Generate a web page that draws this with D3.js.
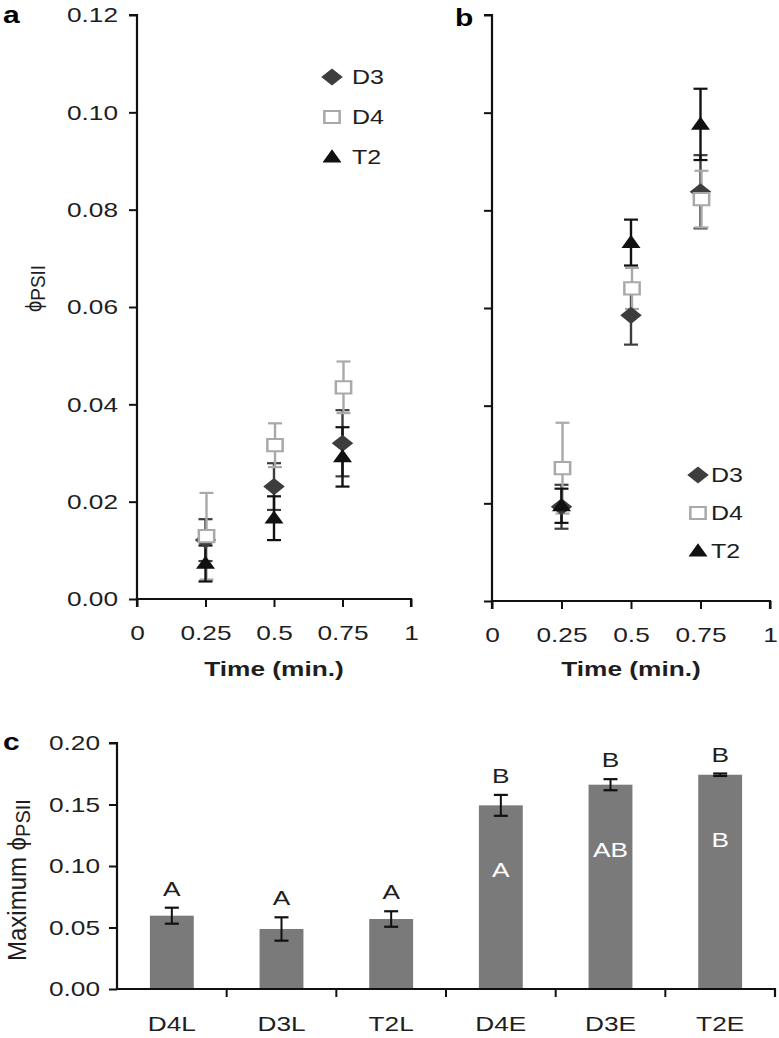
<!DOCTYPE html>
<html><head><meta charset="utf-8">
<script src="https://cdn.jsdelivr.net/npm/d3@7"></script>
<style>
body{margin:0;background:#fff;}
svg{display:block;font-family:"Liberation Sans",Arial,sans-serif;}
</style></head>
<body><svg id="c" width="779" height="1038"></svg>
<script>
// ---------- data ----------
const times = [0.25, 0.5, 0.75];
const seriesNames = ["D3", "D4", "T2"];
// panel a
const aD3 = [0.0121, 0.0231, 0.0320];
const aD3err = [0.0043, 0.0048, 0.0068];
const aD4 = [0.0129, 0.0316, 0.0435];
const aD4err = [0.0089, 0.0045, 0.0053];
const aT2 = [0.0073, 0.0166, 0.0292];
const aT2err = [0.0037, 0.0045, 0.0061];
// panel b
const bD3 = [0.0193, 0.0585, 0.0838];
const bD3err = [0.0045, 0.0060, 0.0075];
const bD4 = [0.0272, 0.0640, 0.0823];
const bD4err = [0.0093, 0.0042, 0.0058];
const bT2 = [0.0195, 0.0734, 0.0976];
const bT2err = [0.0035, 0.0047, 0.0073];
const yTicksAB = [0, 0.02, 0.04, 0.06, 0.08, 0.10, 0.12];
const xTicksAB = [0, 0.25, 0.5, 0.75, 1];
const xTickLabels = ["0", "0.25", "0.5", "0.75", "1"];
// panel c
const barCats = ["D4L", "D3L", "T2L", "D4E", "D3E", "T2E"];
const barVals = [0.0596, 0.0488, 0.0569, 0.1493, 0.1661, 0.1742];
const barErr = [0.0065, 0.0095, 0.0063, 0.0085, 0.0045, 0.0010];
const topLetters = ["A", "A", "A", "B", "B", "B"];
const innerLetters = ["", "", "", "A", "AB", "B"];
const yTicksC = [0, 0.05, 0.10, 0.15, 0.20];

// ---------- styles ----------
const colD3 = "#3d3d3d", colD4 = "#a9a9a9", colT2 = "#111", txtCol = "#1e1e1e";
const SX = 1.25;           // horizontal stretch of the reference
const FS = 21;
const svg = d3.select("#c");

function txt(parent, x, y, str, o = {}) {
  const t = parent.append("text")
    .attr("transform", `translate(${x},${y}) scale(${o.sx || SX},1)` + (o.rot ? ` rotate(${o.rot})` : ""))
    .attr("text-anchor", o.anchor || "start")
    .attr("font-size", o.fs || FS)
    .attr("font-weight", o.bold ? "bold" : null)
    .attr("fill", o.fill || txtCol);
  if (str !== null) t.text(str);
  return t;
}
function stretchAxisText(a) {
  a.selectAll(".tick text").each(function () {
    const el = d3.select(this);
    const x = +el.attr("x") || 0;
    el.attr("transform", `translate(${x},0) scale(${SX},1) translate(${-x},0)`)
      .attr("font-size", FS).attr("fill", txtCol)
      .attr("font-family", "Liberation Sans, Arial, sans-serif");
  });
}
function styleAxis(a) {
  a.select(".domain").attr("stroke", "#111").attr("stroke-width", 2.2);
  a.selectAll(".tick line").attr("stroke", "#111").attr("stroke-width", 2);
  stretchAxisText(a);
}

function drawMarker(g, name, x, y) {
  const base = `translate(${x},${y}) scale(${SX},1)`;
  if (name === "D3") {
    g.append("path").attr("d", d3.symbol(d3.symbolSquare, 148)())
      .attr("transform", base + " rotate(45)").attr("fill", colD3);
  } else if (name === "D4") {
    g.append("path").attr("d", d3.symbol(d3.symbolSquare, 150)())
      .attr("transform", base).attr("fill", "#fff")
      .attr("stroke", colD4).attr("stroke-width", 2);
  } else {
    g.append("path").attr("d", d3.symbol(d3.symbolTriangle, 100)())
      .attr("transform", `translate(${x},${y + 1}) scale(${SX},1)`).attr("fill", colT2);
  }
}

function scatterPanel(opts) {
  const x = d3.scaleLinear().domain([0, 1]).range([opts.x0, opts.x1]);
  const y = d3.scaleLinear().domain([0, 0.12]).range([opts.y0, opts.y1]);
  const g = svg.append("g");
  const yAxis = d3.axisLeft(y).tickValues(yTicksAB).tickSize(8).tickPadding(11)
    .tickFormat(opts.yLabels ? d3.format(".2f") : () => "");
  const ya = g.append("g").attr("transform", `translate(${opts.x0},0)`).call(yAxis);
  const xAxis = d3.axisBottom(x).tickValues(xTicksAB).tickSize(8).tickPadding(18)
    .tickFormat((d, i) => xTickLabels[i]);
  const xa = g.append("g").attr("transform", `translate(0,${opts.y0})`).call(xAxis);
  [ya, xa].forEach(styleAxis);
  ya.select(".domain").attr("d", `M-8,${opts.y1}H0V${opts.y0}`);
  xa.select(".domain").attr("d", `M${opts.x0},8V0H${opts.x1}V8`);

  const sets = [
    {n: "D3", v: opts.D3, e: opts.D3e, c: colD3},
    {n: "D4", v: opts.D4, e: opts.D4e, c: colD4},
    {n: "T2", v: opts.T2, e: opts.T2e, c: colT2}
  ];
  sets.forEach(s => {
    times.forEach((t, i) => {
      const cx = x(t) + (s.n === "D4" ? 1 : 0);
      const top = y(s.v[i] + s.e[i]), bot = y(s.v[i] - s.e[i]);
      g.append("line").attr("x1", cx).attr("x2", cx).attr("y1", top).attr("y2", bot)
        .attr("stroke", s.c).attr("stroke-width", 2.4);
      [top, bot].forEach(yy => g.append("line").attr("x1", cx - 7).attr("x2", cx + 7)
        .attr("y1", yy).attr("y2", yy).attr("stroke", s.c).attr("stroke-width", 2.2));
    });
  });
  sets.forEach(s => {
    times.forEach((t, i) => drawMarker(g, s.n, x(t) + (s.n === "D4" ? 1 : 0), y(s.v[i])));
  });
  // legend
  seriesNames.forEach((n, i) => {
    const ly = opts.legY + i * opts.legStep;
    drawMarker(g, n, opts.legX, ly);
    txt(g, opts.legTX, ly + 7, n, {fs: 20});
  });
  txt(g, x(0.5), 676, "Time (min.)", {anchor: "middle", bold: true});
  return {x, y};
}

scatterPanel({x0: 137, x1: 411, y0: 599, y1: 15, yLabels: true,
  D3: aD3, D3e: aD3err, D4: aD4, D4e: aD4err, T2: aT2, T2e: aT2err,
  legX: 332, legTX: 352, legY: 77, legStep: 40});
scatterPanel({x0: 492, x1: 770, y0: 601, y1: 15, yLabels: false,
  D3: bD3, D3e: bD3err, D4: bD4, D4e: bD4err, T2: bT2, T2e: bT2err,
  legX: 698, legTX: 711, legY: 475, legStep: 38});

// panel labels
txt(svg, 3, 23, "a", {bold: true, fs: 24, fill: "#000"});
txt(svg, 455, 26, "b", {bold: true, fs: 24, fill: "#000"});
txt(svg, 3, 750, "c", {bold: true, fs: 24, fill: "#000"});

// y label a
const yl = txt(svg, 41, 312, null, {rot: -90, fs: 20, sx: 1.1});
yl.append("tspan").text("ϕ");
yl.append("tspan").attr("font-size", 19).attr("dy", 4).text("PSII");

// ---------- panel c ----------
const xc = d3.scaleBand().domain(barCats).range([117, 775]).paddingInner(0.6).paddingOuter(0.3);
const yc = d3.scaleLinear().domain([0, 0.20]).range([989, 743]);
const gc = svg.append("g");
gc.selectAll("rect.bar").data(barCats).join("rect").attr("class", "bar")
  .attr("x", d => xc(d)).attr("width", xc.bandwidth())
  .attr("y", (d, i) => yc(barVals[i])).attr("height", (d, i) => yc(0) - yc(barVals[i]))
  .attr("fill", "#7a7a7a");
barCats.forEach((c, i) => {
  const cx = xc(c) + xc.bandwidth() / 2;
  const top = yc(barVals[i] + barErr[i]), bot = yc(barVals[i] - barErr[i]);
  gc.append("line").attr("x1", cx).attr("x2", cx).attr("y1", top).attr("y2", bot)
    .attr("stroke", "#111").attr("stroke-width", 2);
  [top, bot].forEach(yy => gc.append("line").attr("x1", cx - 7).attr("x2", cx + 7)
    .attr("y1", yy).attr("y2", yy).attr("stroke", "#111").attr("stroke-width", 2.2));
  txt(gc, cx, top - 12, topLetters[i], {anchor: "middle"});
  if (innerLetters[i]) {
    txt(gc, cx, yc(barVals[i]) + 72, innerLetters[i], {anchor: "middle", fill: "#fff"});
  }
});
const yac = gc.append("g").attr("transform", "translate(117,0)")
  .call(d3.axisLeft(yc).tickValues(yTicksC).tickSize(8).tickPadding(9).tickFormat(d3.format(".2f")));
const xac = gc.append("g").attr("transform", "translate(0,989)")
  .call(d3.axisBottom(xc).tickSize(0).tickPadding(27));
const bounds = barCats.slice(1).map(c => xc(c) - (xc.step() - xc.bandwidth()) / 2);
bounds.forEach(b => xac.append("line").attr("x1", b).attr("x2", b).attr("y1", 0).attr("y2", 8)
  .attr("stroke", "#111").attr("stroke-width", 2));
[yac, xac].forEach(styleAxis);
yac.select(".domain").attr("d", "M-8,743H0V989");
xac.select(".domain").attr("d", "M117,0H775V8");

const ylc = txt(svg, 26, 961, null, {rot: -90, fs: 24, sx: 1.05});
ylc.append("tspan").text("Maximum ϕ");
ylc.append("tspan").attr("font-size", 20).attr("dy", 4).text("PSII");
</script></body></html>
